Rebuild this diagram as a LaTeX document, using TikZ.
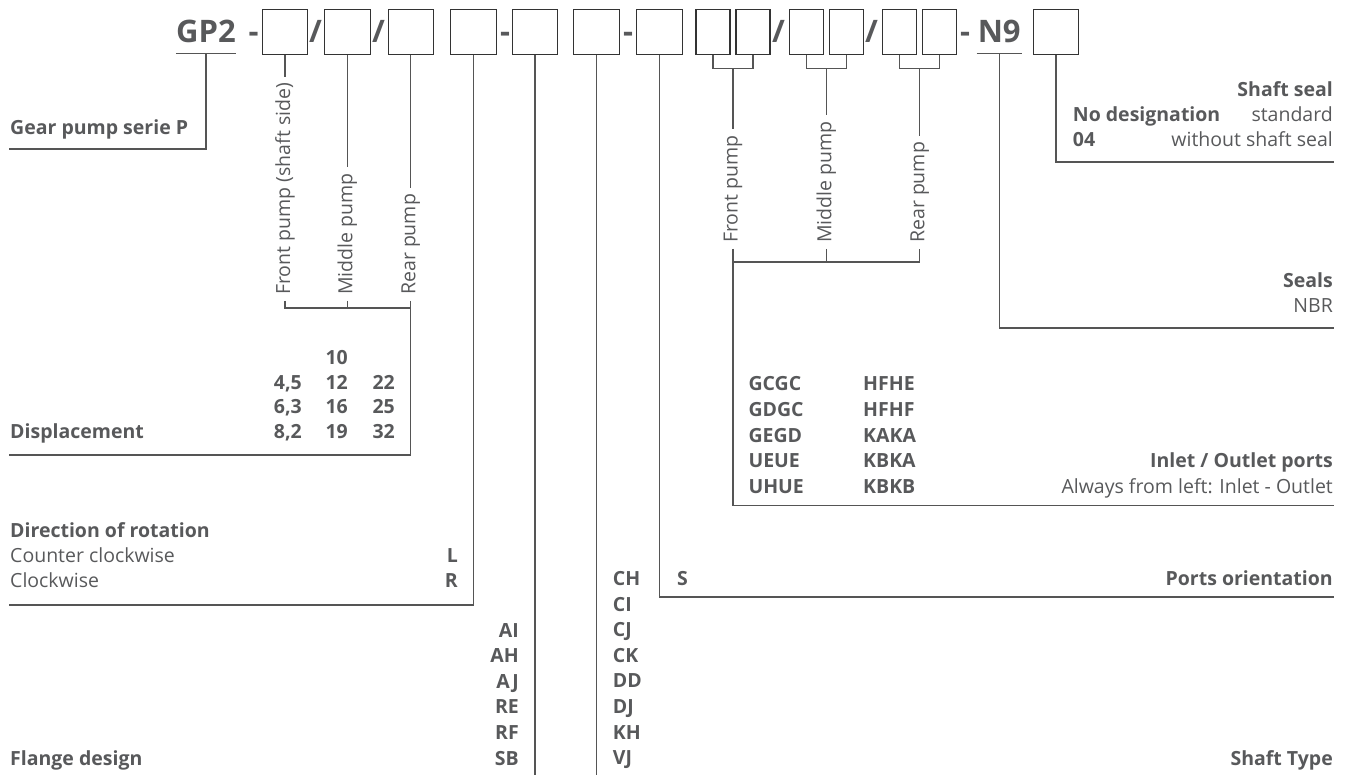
\documentclass[tikz,border=0pt]{standalone}
\usepackage{fontspec}
\setmainfont{Open Sans}
\definecolor{txt}{HTML}{58595B}
\definecolor{rule}{HTML}{555555}
\definecolor{frame}{HTML}{333333}

\begin{document}
\begin{tikzpicture}[x=1pt, y=-1pt,
    slot/.style ={draw=frame, line width=1.1pt, minimum height=45pt, minimum width=45.5pt, inner sep=0pt},
    halfslot/.style ={slot, minimum width=34pt},
    sign/.style ={text=txt, font=\fontsize{31}{31}\selectfont\bfseries, inner sep=0pt, anchor=base},
    conn/.style ={draw=rule, line width=1.1pt},
    heading/.style ={text=txt, font=\fontsize{19.5}{24}\selectfont\bfseries, inner sep=0pt},
    note/.style ={text=txt, font=\fontsize{19.5}{24}\selectfont, inner sep=0pt},
    pumplabel/.style ={note, rotate=90, anchor=west, inner xsep=6pt}]
   \useasboundingbox (0,0) rectangle (1349,775);

   % type code
   \node[sign, minimum width=60pt, inner ysep=10pt] (GP) at (206,43) {GP2};
   \draw[conn] (GP.south west) -- (GP.south east);
   \node[sign] (D1) at (253.5,43) {-};
   \node[slot] (B1) at (285,31.8) {};
   \node[sign] (S1) at (315.5,43) {/};
   \node[slot] (B2) at (347.3,31.8) {};
   \node[sign] (S2) at (378.5,43) {/};
   \node[slot] (B3) at (410.8,31.8) {};
   \node[slot] (B4) at (473.3,31.8) {};
   \node[sign] (D2) at (505,43) {-};
   \node[slot] (B5) at (535,31.8) {};
   \node[slot] (B6) at (596.5,31.8) {};
   \node[sign] (D3) at (628,43) {-};
   \node[slot] (B7) at (659.5,31.8) {};
   \node[halfslot] (P1) at (713,31.8) {};
   \node[halfslot] (Q1) at (753,31.8) {};
   \node[sign] (S3) at (778.5,43) {/};
   \node[halfslot] (P2) at (806.3,31.8) {};
   \node[halfslot] (Q2) at (846.3,31.8) {};
   \node[sign] (S4) at (871.5,43) {/};
   \node[halfslot] (P3) at (899.7,31.8) {};
   \node[halfslot] (Q3) at (939.7,31.8) {};
   \node[sign] (D4) at (965,43) {-};
   \node[sign, minimum width=45pt, inner ysep=10pt] (N9) at (999.2,43) {N9};
   \draw[conn] (N9.south west) -- (N9.south east);
   \node[slot] (B8) at (1056,31.8) {};

   % gear pump
   \node[heading, anchor=base west] (GPS) at (10,135) {Gear pump serie P};
   \coordinate (GPL) at (9,149);
   \draw[conn] (GP.south) |- (GPL);

   % displacement
   \node[pumplabel] (FP) at (285,301) {Front pump (shaft side)};
   \node[pumplabel] (MP) at (347.3,301) {Middle pump};
   \node[pumplabel] (RP) at (410.8,301) {Rear pump};
   \draw[conn] (B1.south) -- (FP.east);
   \draw[conn] (B2.south) -- (MP.east);
   \draw[conn] (B3.south) -- (RP.east);
   \coordinate (LB) at (0,308);
   \draw[conn] (FP.west) |- (LB -| RP.west) -- (RP.west);
   \draw[conn] (MP.west) -- (MP.west |- LB);
   \coordinate (DL) at (9,455);
   \draw[conn] (RP.west) |- (DL);
   \node[heading, anchor=base west] (DSP) at (10,438) {Displacement};
   \node[heading, anchor=base east] (V1) at (302,389) {4,5};
   \node[heading, anchor=base east] (V2) at (302,413.5) {6,3};
   \node[heading, anchor=base east] (V3) at (302,438) {8,2};
   \node[heading, anchor=base east] (W0) at (348,364.5) {10};
   \node[heading, anchor=base east] (W1) at (348,389) {12};
   \node[heading, anchor=base east] (W2) at (348,413.5) {16};
   \node[heading, anchor=base east] (W3) at (348,438) {19};
   \node[heading, anchor=base east] (X1) at (395,389) {22};
   \node[heading, anchor=base east] (X2) at (395,413.5) {25};
   \node[heading, anchor=base east] (X3) at (395,438) {32};

   % direction of rotation
   \node[heading, anchor=base west] (DIR) at (10,537) {Direction of rotation};
   \node[note, anchor=base west] (CCW) at (10,562) {Counter clockwise};
   \node[note, anchor=base west] (CW) at (10,587) {Clockwise};
   \node[heading, anchor=base east] (L) at (458,562) {L};
   \node[heading, anchor=base east] (R) at (458,587) {R};
   \coordinate (DRL) at (9,605);
   \draw[conn] (B4.south) |- (DRL);

   % flange and shaft
   \coordinate (FB) at (0,775);
   \draw[conn] (B5.south) -- (B5.south |- FB);
   \draw[conn] (B6.south) -- (B6.south |- FB);
   \node[heading, anchor=base west] (FLG) at (10,765) {Flange design};
   \foreach \t [count=\i] in {AI,AH,AJ,RE,RF,SB}
     \node[heading, anchor=base east] (F\i) at (519,{637+25.6*(\i-1)}) {\t};
   \foreach \t [count=\i] in {CH,CI,CJ,CK,DD,DJ,KH,VJ}
     \node[heading, anchor=base west] (T\i) at (612.7,{585.5+25.6*(\i-1)}) {\t};
   \node[heading, anchor=base east] (STY) at (1333,765) {Shaft Type};

   % ports orientation
   \node[heading, anchor=base west] (S) at (677,585) {S};
   \node[heading, anchor=base east] (POR) at (1333,585) {Ports orientation};
   \coordinate (POL) at (1334,597);
   \draw[conn] (B7.south) |- (POL);

   % inlet / outlet ports
   \coordinate (TB) at (0,68.5);
   \draw[conn] (P1.south) |- (TB -| Q1.south) -- (Q1.south);
   \draw[conn] (P2.south) |- (TB -| Q2.south) -- (Q2.south);
   \draw[conn] (P3.south) |- (TB -| Q3.south) -- (Q3.south);
   \node[pumplabel] (FR) at (733,249) {Front pump};
   \node[pumplabel] (MR) at (826.3,249) {Middle pump};
   \node[pumplabel] (RR) at (919.7,249) {Rear pump};
   \draw[conn] (TB -| FR.east) -- (FR.east);
   \draw[conn] (TB -| MR.east) -- (MR.east);
   \draw[conn] (TB -| RR.east) -- (RR.east);
   \coordinate (RB) at (0,262);
   \draw[conn] (FR.west) |- (RB -| RR.west) -- (RR.west);
   \draw[conn] (MR.west) -- (MR.west |- RB);
   \coordinate (IOL) at (1334,505.7);
   \draw[conn] (FR.west) |- (IOL);
   \foreach \t [count=\i] in {GCGC,GDGC,GEGD,UEUE,UHUE}
     \node[heading, anchor=base west] (G\i) at (748.3,{391+25.5*(\i-1)}) {\t};
   \foreach \t [count=\i] in {HFHE,HFHF,KAKA,KBKA,KBKB}
     \node[heading, anchor=base west] (H\i) at (863,{391+25.5*(\i-1)}) {\t};
   \node[heading, anchor=base east] (IOP) at (1333,467.5) {Inlet / Outlet ports};
   \node[note, anchor=base east] (IOA) at (1333,493) {Always from left: Inlet - Outlet};

   % seals
   \node[heading, anchor=base east] (SEA) at (1333,288) {Seals};
   \node[note, anchor=base east] (NBR) at (1333,313) {NBR};
   \coordinate (SLL) at (1334,328);
   \draw[conn] (N9.south) |- (SLL);

   % shaft seal
   \node[heading, anchor=base east] (SHS) at (1333,97) {Shaft seal};
   \node[heading, anchor=base west] (NOD) at (1072.7,122) {No designation};
   \node[note, anchor=base east] (STD) at (1333,122) {standard};
   \node[heading, anchor=base west] (O4) at (1072.7,147) {04};
   \node[note, anchor=base east] (WSS) at (1333,147) {without shaft seal};
   \coordinate (SSL) at (1334,162);
   \draw[conn] (B8.south) |- (SSL);
 \end{tikzpicture}
\end{document}
